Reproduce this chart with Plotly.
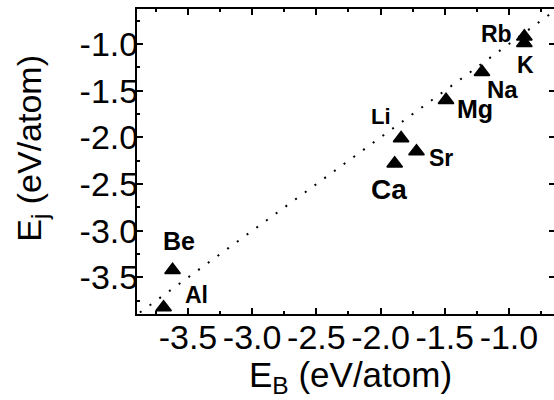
import plotly.graph_objects as go

# Elements and their energies (eV/atom)
elements = ["Al", "Be", "Ca", "Li", "Sr", "Mg", "Na", "K", "Rb"]
e_b = [-3.69, -3.62, -1.89, -1.84, -1.72, -1.49, -1.21, -0.88, -0.88]
e_j = [-3.82, -3.42, -2.28, -2.01, -2.15, -1.60, -1.30, -0.99, -0.92]

# y = x reference line endpoints
diag = [-3.95, -0.55]

# tick positions and their labels (plain hyphen minus)
tick_vals = [-3.5, -3.0, -2.5, -2.0, -1.5, -1.0]
tick_text = ["-3.5", "-3.0", "-2.5", "-2.0", "-1.5", "-1.0"]

x_title = "E<sub>B</sub> (eV/atom)"
y_title = "E<sub>j</sub> (eV/atom)"

x_range = [-3.897, -0.649]
y_range = [-3.891, -0.625]

# label placement (pixel offsets from the marker) and font size
label_style = {
    "Al": (33, 12, 23),
    "Be": (6, 29, 25),
    "Ca": (-6, -26, 28),
    "Li": (-20, 22, 22),
    "Sr": (24, -7, 23),
    "Mg": (29, -9, 25),
    "Na": (21, -17, 24),
    "K": (1, -22, 23),
    "Rb": (-28, 3, 23),
}

FONT = "Liberation Sans, Arial, sans-serif"

fig = go.Figure()

fig.add_trace(go.Scatter(
    x=diag, y=diag, mode="lines",
    line=dict(color="black", width=2, dash="2px,10px"),
    hoverinfo="skip", showlegend=False,
))

fig.add_trace(go.Scatter(
    x=e_b, y=e_j, mode="markers",
    marker=dict(symbol="triangle-up", size=13.5, color="black",
                line=dict(color="black", width=1.5)),
    text=elements, showlegend=False,
))

for name, xv, yv in zip(elements, e_b, e_j):
    dx, dy, fs = label_style[name]
    fig.add_annotation(
        x=xv, y=yv, text=f"<b>{name}</b>", showarrow=False,
        xshift=dx, yshift=dy, xanchor="center", yanchor="middle",
        font=dict(family=FONT, size=fs, color="black"),
    )

# axis titles
fig.add_annotation(
    text=x_title, xref="paper", yref="paper", x=0.512, y=-0.207,
    xanchor="center", yanchor="middle", showarrow=False,
    font=dict(family=FONT, size=35, color="black"),
)
fig.add_annotation(
    text=y_title, xref="paper", yref="paper", x=-0.252, y=0.545,
    xanchor="center", yanchor="middle", showarrow=False, textangle=-90,
    font=dict(family=FONT, size=34, color="black"),
)

axis_common = dict(
    showgrid=False, zeroline=False, automargin=False,
    showline=True, linecolor="black", linewidth=2,
    ticks="inside", ticklen=6, tickwidth=2, tickcolor="black",
    tickmode="array", tickvals=tick_vals, ticktext=tick_text, tickangle=0,
    tickfont=dict(family=FONT, size=34, color="black"),
    minor=dict(ticks="inside", ticklen=3, tickwidth=2, tickcolor="black",
               tickmode="linear", tick0=-3.5, dtick=0.25),
)

fig.update_layout(
    width=554, height=400,
    margin=dict(l=137, r=0, t=9, b=86),
    paper_bgcolor="white", plot_bgcolor="white",
    font=dict(family=FONT, color="black"),
    xaxis=dict(axis_common, range=x_range, mirror="ticks", ticklabelstandoff=-8),
    yaxis=dict(axis_common, range=y_range, mirror=False, ticklabelstandoff=-10),
    yaxis2=dict(
        overlaying="y", side="right", anchor="x", matches="y",
        showgrid=False, zeroline=False, showline=False, automargin=False,
        ticks="inside", ticklen=5, tickwidth=2, tickcolor="black",
        tickmode="array", tickvals=tick_vals, showticklabels=False,
    ),
)

# attach an empty trace so the right-hand tick axis is rendered
fig.add_trace(go.Scatter(x=[], y=[], yaxis="y2", showlegend=False, hoverinfo="skip"))

fig.write_html("out.html")
